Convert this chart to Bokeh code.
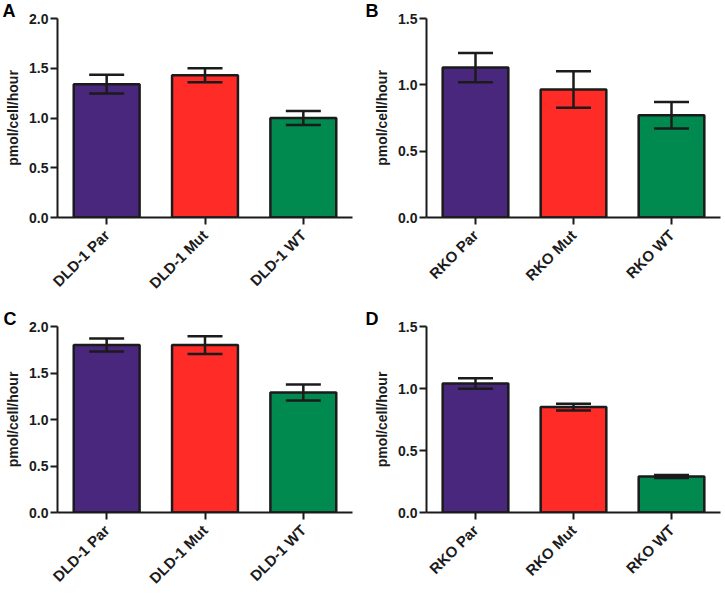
import math
from bokeh.plotting import figure
from bokeh.models import (ColumnDataSource, Range1d, FactorRange, FixedTicker,
                          NumeralTickFormatter, Whisker, TeeHead)
from bokeh.layouts import gridplot
from bokeh.embed import file_html
from bokeh.resources import INLINE

# ---- data ----
dld_labels = ["DLD-1 Par", "DLD-1 Mut", "DLD-1 WT"]
rko_labels = ["RKO Par", "RKO Mut", "RKO WT"]
a_means = [1.34, 1.43, 1.00]
a_err = [0.095, 0.07, 0.07]
b_means = [1.13, 0.965, 0.77]
b_err = [0.11, 0.137, 0.10]
c_means = [1.80, 1.80, 1.29]
c_err = [0.07, 0.095, 0.087]
d_means = [1.04, 0.85, 0.29]
d_err = [0.043, 0.028, 0.012]
dld_ticks = [0.0, 0.5, 1.0, 1.5, 2.0]
rko_ticks = [0.0, 0.5, 1.0, 1.5]
bar_colors = ["#49277D", "#FF2B27", "#018A50"]
y_label = "pmol/cell/hour"

FONT = "Liberation Sans"
INK = "#1b1b1b"


def panel(letter, cats, means, errs, ticks, width, height, bl, bt, br, bb, letter_dx):
    p = figure(x_range=FactorRange(*cats, range_padding=0),
               y_range=Range1d(0, ticks[-1]),
               width=width, height=height,
               min_border_left=bl, min_border_top=bt,
               min_border_right=br, min_border_bottom=bb,
               output_backend="svg", toolbar_location=None,
               background_fill_color="white", border_fill_color="white")
    p.outline_line_color = None
    p.grid.visible = False

    # panel letter as a left-shifted title
    p.title.text = letter
    p.title.align = "left"
    p.title.offset = letter_dx
    p.title.standoff = -4
    p.title.text_font = FONT
    p.title.text_font_style = "bold"
    p.title.text_font_size = "18px"
    p.title.text_color = "black"

    src = ColumnDataSource(dict(
        cat=cats, val=means,
        upper=[m + e for m, e in zip(means, errs)],
        lower=[m - e for m, e in zip(means, errs)],
        color=bar_colors))
    p.vbar(x="cat", top="val", width=0.67, source=src, fill_color="color",
           line_color=INK, line_width=2.5)
    w = Whisker(base="cat", upper="upper", lower="lower", source=src,
                line_color=INK, line_width=2.5, level="overlay",
                upper_head=TeeHead(size=35, line_color=INK, line_width=2.5),
                lower_head=TeeHead(size=35, line_color=INK, line_width=2.5))
    p.add_layout(w)

    for ax in (p.xaxis[0], p.yaxis[0]):
        ax.axis_line_width = 2
        ax.axis_line_color = INK
        ax.major_tick_line_width = 2
        ax.major_tick_line_color = INK
        ax.major_tick_out = 7
        ax.major_tick_in = 0
        ax.minor_tick_line_color = None
        ax.major_label_text_font = FONT
        ax.major_label_text_font_style = "bold"
        ax.major_label_text_color = INK

    p.yaxis.major_label_standoff = 2
    p.yaxis.ticker = FixedTicker(ticks=ticks)
    p.yaxis.formatter = NumeralTickFormatter(format="0.0")
    p.yaxis.major_label_text_font_size = "14px"
    p.yaxis.axis_label = y_label
    p.yaxis.axis_label_text_font = FONT
    p.yaxis.axis_label_text_font_style = "bold"
    p.yaxis.axis_label_text_font_size = "14px"
    p.yaxis.axis_label_text_color = INK
    p.yaxis.axis_label_standoff = 5

    p.xaxis.major_label_standoff = 8
    p.xaxis.major_label_text_font_size = "15px"
    p.xaxis.major_label_orientation = math.pi / 4
    return p


pa = panel("A", dld_labels, a_means, a_err, dld_ticks, 362, 300, 57, 18, 10, 83, -55)
pb = panel("B", rko_labels, b_means, b_err, rko_ticks, 360, 300, 64, 18, 2, 83, -61)
pc = panel("C", dld_labels, c_means, c_err, dld_ticks, 362, 295, 57, 26, 10, 69, -54)
pd = panel("D", rko_labels, d_means, d_err, rko_ticks, 360, 295, 64, 26, 2, 69, -61)

grid = gridplot([[pa, pb], [pc, pd]], toolbar_location=None)

open("out.html", "w").write(file_html(grid, INLINE))
